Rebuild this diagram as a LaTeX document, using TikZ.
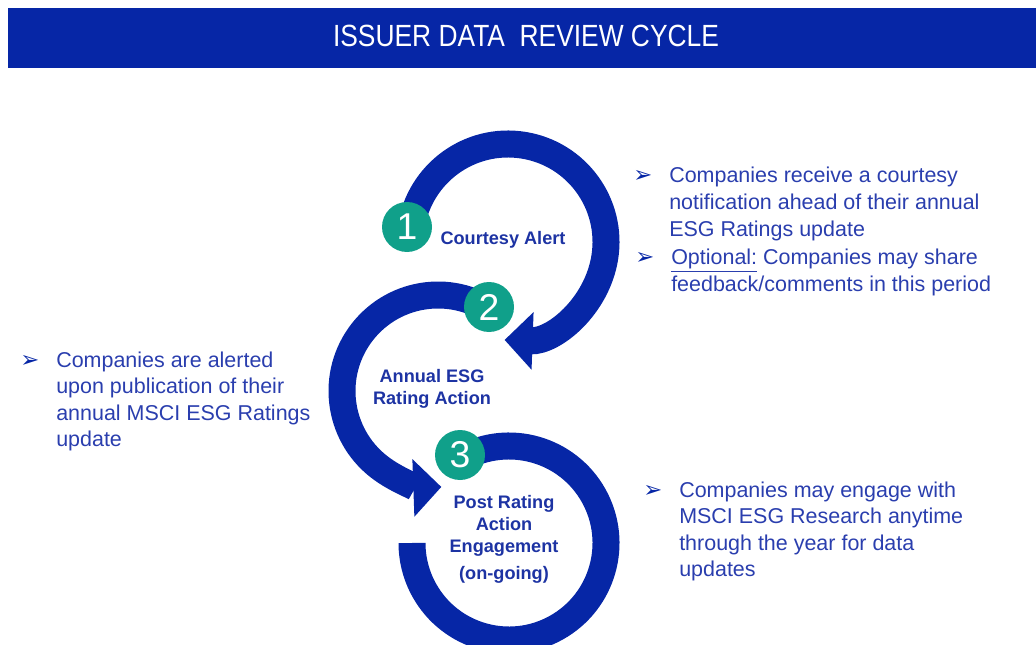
\documentclass[tikz,border=0pt]{standalone}
\usepackage{fontspec}
\setmainfont{Liberation Sans}
\newfontfamily\bannerfont[FakeStretch=0.86]{Liberation Sans}
\newfontfamily\symbolfont{DejaVu Sans}
\usetikzlibrary{arrows.meta,positioning}

\definecolor{msciblue}{HTML}{0626A6}
\definecolor{stepgreen}{HTML}{10A08A}
\definecolor{noteblue}{HTML}{2A3EAE}
\definecolor{labelblue}{HTML}{1D33A3}

% arrow bullet, then the lines of the point
\newcommand{\notebullet}{{\symbolfont\fontsize{17pt}{17pt}\selectfont\color{msciblue}➢}}
\newcommand{\point}[1]{\makebox[27pt][l]{\notebullet}\parbox[t]{260pt}{\raggedright #1}}

\begin{document}
\begin{tikzpicture}[x=0.75pt, y=0.75pt,
    ring/.style={draw=msciblue, line width=20.25pt},
    arrowring/.style={ring, -{Triangle[length=21pt, width=42pt]}},
    badge/.style={circle, fill=stepgreen, minimum size=37.5pt, inner sep=0pt,
                  text=white, font=\fontsize{28pt}{28pt}\selectfont},
    stage/.style={anchor=base, text=labelblue, inner sep=0pt,
                  font=\bfseries\fontsize{13.6pt}{16.5pt}\selectfont},
    note/.style={anchor=base west, text=noteblue, inner sep=0pt,
                 font=\fontsize{16.1pt}{19.9pt}\selectfont}
]
    \useasboundingbox (0,0) rectangle (1036,644);
    \clip (0,0) rectangle (1036,644);

    % Banner
    \fill[msciblue] (8,576) rectangle (1036,636);
    \node[anchor=base, text=white, inner sep=0pt,
          font=\bannerfont\fontsize{23pt}{23pt}\selectfont] (banner) at (526,597)
          {ISSUER DATA\ \ REVIEW CYCLE};

    % Ring centres
    \coordinate (hub1) at (508,402);
    \coordinate (hub2) at (438,253);
    \coordinate (hub3) at (509,101);

    % The three loops
    \draw[arrowring] ([shift={(171:98)}]hub1) arc[start angle=171, end angle=-92, radius=98];
    \draw[arrowring] ([shift={(52:96)}]hub2) arc[start angle=52, end angle=272, radius=96];
    \draw[ring] ([shift={(119:97)}]hub3) arc[start angle=119, end angle=-180, radius=97];

    % Step numbers
    \node[badge] (b1) at (407,417) {1};
    \node[badge] (b2) at (489,337) {2};
    \node[badge] (b3) at (460,189) {3};

    % Stage labels
    \node[stage] (alert) at (503,399) {Courtesy Alert};
    \node[stage] (rating) at (432,262) {\parbox[t]{150pt}{\centering Annual ESG\\Rating Action}};
    \node[stage] (engage) at (504,136)
        {\parbox[t]{150pt}{\centering Post Rating\\Action\\Engagement\\[3.75pt](on-going)}};

    % Notes
    \node[note] (n1) at (633,461) {\point{Companies receive a courtesy\\notification ahead of their annual\\ESG Ratings update}};
    \node[note] (n2) at (635,379) {\point{\underline{Optional:} Companies may share\\feedback/comments in this period}};
    \node[note] (n3) at (20,277) {\point{Companies are alerted\\upon publication of their\\annual MSCI ESG Ratings\\update}};
    \node[note] (n4) at (643,147) {\point{Companies may engage with\\MSCI ESG Research anytime\\through the year for data\\updates}};
\end{tikzpicture}
\end{document}
